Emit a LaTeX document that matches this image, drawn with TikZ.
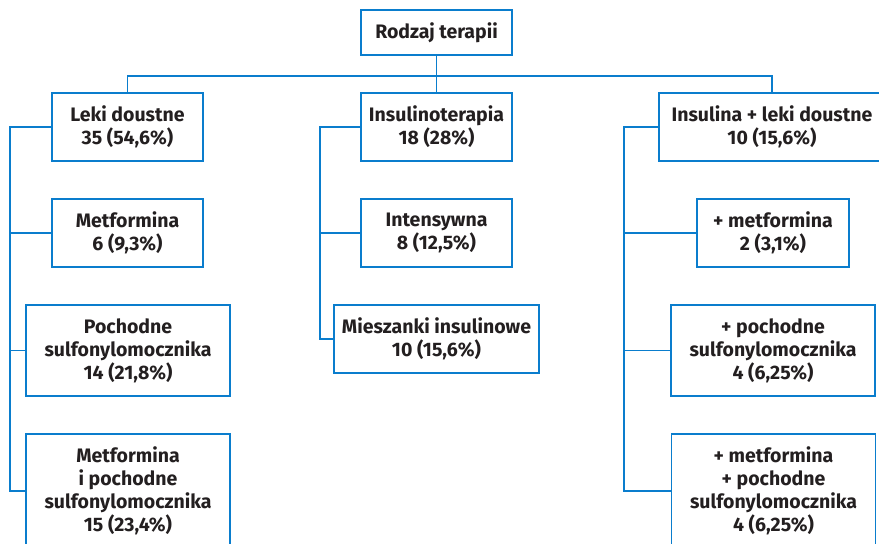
\documentclass[tikz,border=0pt]{standalone}
\usepackage{fontspec}
\setmainfont{Fira Sans}
\usepackage{tikz}
\usepackage{xcolor}
\definecolor{ColLine}{RGB}{10,125,205}
\definecolor{ColText}{RGB}{35,31,32}
\tikzstyle{NodeBox}=[rectangle,draw=ColLine,line width=1.5pt,fill=white,inner sep=0pt,
minimum width=151pt,minimum height=68pt,align=center,text=ColText,
font=\fontsize{19.5}{23}\selectfont\bfseries]
\tikzstyle{EdgeTree}=[ColLine,line width=1.5pt]

\begin{document}
\begin{tikzpicture}[x=1pt,y=-1pt]
        \useasboundingbox(0,0)rectangle(879,544);
        \clip(0,0)rectangle(879,544);
        % level 0 and 1
        \node[NodeBox,minimum height=45pt](root)at(436.5,32.5){Rodzaj terapii};
        \node[NodeBox](leki)at(127.5,127){Leki doustne\\35 (54,6\%)};
        \node[NodeBox](insul)at(436.5,127){Insulinoterapia\\18 (28\%)};
        \node[NodeBox,minimum width=226pt](mix)at(772,127){Insulina + leki doustne\\10 (15,6\%)};
        % leki doustne
        \node[NodeBox](metf)at(127.5,233){Metformina\\6 (9,3\%)};
        \node[NodeBox,minimum width=204pt,minimum height=91pt](poch)at(128,350.5){Pochodne\\sulfonylomocznika\\14 (21,8\%)};
        \node[NodeBox,minimum width=204pt,minimum height=114pt](metpoch)at(128,491){Metformina\\i pochodne\\sulfonylomocznika\\15 (23,4\%)};
        % insulinoterapia
        \node[NodeBox](intens)at(436.5,233){Intensywna\\8 (12,5\%)};
        \node[NodeBox,minimum width=205pt](miesz)at(436.5,339){Mieszanki insulinowe\\10 (15,6\%)};
        % insulina + leki
        \node[NodeBox,minimum width=152pt](plmet)at(773,233){+ metformina\\2 (3,1\%)};
        \node[NodeBox,minimum width=204pt,minimum height=91pt](plpoch)at(773,350.5){+ pochodne\\sulfonylomocznika\\4 (6,25\%)};
        \node[NodeBox,minimum width=204pt,minimum height=114pt](plmetpoch)at(773.5,491){+ metformina\\+ pochodne\\sulfonylomocznika\\4 (6,25\%)};
        \coordinate(busL)at(127.5,76);
        \coordinate(busR)at(772,76);
        \coordinate(railL)at(10,0);
        \coordinate(railM)at(320,0);
        \coordinate(railR)at(624,0);
        \draw[EdgeTree](root)--(insul);
        \draw[EdgeTree](leki.north)--(busL)--(busR)--(mix.north);
        \draw[EdgeTree](leki.west)--(leki.west-|railL)|-(metpoch.west);
        \draw[EdgeTree](insul.west)--(insul.west-|railM)|-(miesz.west);
        \draw[EdgeTree](mix.west)--(mix.west-|railR)|-(plmetpoch.west);
        \foreach \n/\r in {metf/railL,poch/railL,intens/railM,plmet/railR,plpoch/railR}
            \draw[EdgeTree](\n.west)--(\n.west-|\r);
    \end{tikzpicture}
\end{document}
